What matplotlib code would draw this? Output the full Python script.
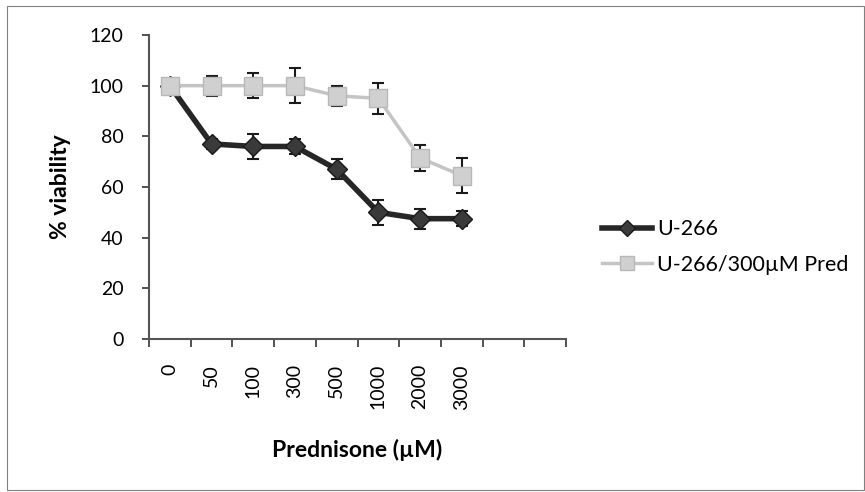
import matplotlib
matplotlib.use("Agg")
import matplotlib.pyplot as plt
from matplotlib.patches import Rectangle
import numpy as np

# Prednisone dose-response data
doses = ["0", "50", "100", "300", "500", "1000", "2000", "3000"]
n_slots = 10  # category slots on the x axis (two trailing slots left empty)

u266 = [100, 77, 76, 76, 67, 50, 47.5, 47.5]
u266_err = [0, 2, 5, 3, 4, 5, 4, 3]

u266_pred = [100, 100, 100, 100, 96, 95, 71.5, 64.5]
u266_pred_err = [0, 4, 5, 7, 4, 6, 5, 7]

yticks = [0, 20, 40, 60, 80, 100, 120]

plt.rcParams["font.family"] = ["Lato", "DejaVu Sans"]

W, H = 865, 492
fig = plt.figure(figsize=(W / 100, H / 100), dpi=100)
fig.patch.set_facecolor("white")

# thin frame around the chart area
fig.patches.append(Rectangle((7 / W, 2 / H), 857 / W, 484 / H, transform=fig.transFigure,
                             fill=False, edgecolor="#808080", linewidth=0.8))

ax = fig.add_axes([149 / W, (H - 339) / H, 417 / W, 304 / H])

x = np.arange(len(doses))

dark = ax.errorbar(x, u266, yerr=u266_err, color="#262626", linewidth=4,
                   marker="D", markersize=10.5, markerfacecolor="#3a3a3a", markeredgecolor="#1a1a1a",
                   ecolor="#1a1a1a", elinewidth=1.5, capsize=4.5, capthick=1.5,
                   label="U-266", zorder=3)
light = ax.errorbar(x, u266_pred, yerr=u266_pred_err, color="#c4c4c4", linewidth=2.5,
                    marker="s", markersize=12.5, markerfacecolor="#d0d0d0", markeredgecolor="#b8b8b8",
                    ecolor="#1a1a1a", elinewidth=1.5, capsize=4.5, capthick=1.5,
                    label="U-266/300\u00b5M Pred", zorder=4)

ax.set_xlim(-0.5, n_slots - 0.5)
ax.set_ylim(0, 120)
ax.set_yticks(yticks)
ax.set_xticks(x)
ax.set_xticklabels(doses, rotation=90, fontsize=14)
ax.set_xticks(np.arange(n_slots + 1) - 0.5, minor=True)
ax.tick_params(axis="x", which="major", length=0, pad=18)
ax.tick_params(axis="x", which="minor", length=6, width=1.2, direction="out", color="#333333")
ax.tick_params(axis="y", length=5, width=1.2, direction="out", labelsize=14, pad=13.5, color="#333333")

for side in ("top", "right"):
    ax.spines[side].set_visible(False)
for side in ("left", "bottom"):
    ax.spines[side].set_color("#555555")
    ax.spines[side].set_linewidth(1.5)

ax.set_ylabel("% viability", fontsize=16.5, fontweight="bold", labelpad=13)
ax.set_xlabel("Prednisone (\u00b5M)", fontsize=16.5, fontweight="bold", labelpad=21)

# legend shows only the series lines and markers, without error bars
fig.legend([dark.lines[0], light.lines[0]], ["U-266", "U-266/300\u00b5M Pred"],
           loc="center left", bbox_to_anchor=(602 / W, (H - 247) / H),
           frameon=False, fontsize=15.5, borderpad=0, borderaxespad=0,
           handlelength=2.3, handletextpad=0.27, labelspacing=0.7, markerscale=0.75)

fig.savefig("out.png", dpi=100)
